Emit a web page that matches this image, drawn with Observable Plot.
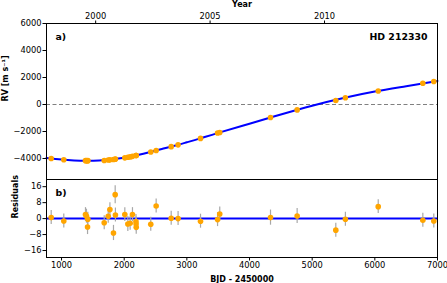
<!DOCTYPE html>
<html><head><meta charset="utf-8">
<script src="https://cdn.jsdelivr.net/npm/d3@7"></script>
<script src="https://cdn.jsdelivr.net/npm/@observablehq/plot@0.6"></script>
<style>
html,body{margin:0;padding:0;background:#fff;}
#wrap{position:relative;width:447px;height:283px;font-family:"DejaVu Sans",sans-serif;}
#wrap svg{position:absolute;left:0;overflow:visible;font-family:"DejaVu Sans",sans-serif;}
</style></head>
<body><div id="wrap"></div>
<script>
// Observation epochs (BJD - 2450000)
const bjd = [835,1036,1382,1398,1415,1420,1681,1745,1772,1829,1856,1860,2010,2058,2095,2132,2188,2190,2192,2424,2510,2750,2860,3218,3490,3525,4335,4760,5377,5530,6054,6766,6941];
// Radial velocities (m/s)
const rv = [-4000,-4090,-4160,-4160,-4165,-4160,-4145,-4110,-4100,-4070,-4050,-4045,-3950,-3910,-3880,-3840,-3780,-3775,-3773,-3520,-3410,-3120,-2990,-2510,-2110,-2070,-960,-400,300,500,1000,1570,1700];
// Residuals (m/s) and error bars
const resid = [0.5,-1.2,2,1.2,-4.2,-0.3,-2.1,1.2,4.5,-7.2,12,1.8,2,-2.7,-2.3,2,-1.5,-2.7,-4.3,-2.8,6.3,0.2,0,-1.3,-0.5,2.3,0.5,1.3,-5.8,-0.3,6,-0.8,-1.2];
const err = [3.5,3.5,3.5,3.5,3.8,3.5,3.5,3.5,3.5,3.8,4.5,3.5,3.5,3.8,3.5,3.5,3.5,3.5,3.5,3.5,3.5,3.5,3.5,3.5,3.5,3.5,3.8,3.8,3.5,3.5,3.5,3.5,3.5];
// Model curve samples
const curveX = [760,1000,1200,1400,1600,1800,2000,2200,2400,2600,2800,3000,3200,3500,4000,4500,5000,5500,6000,6500,7000];
const curveY = [-3960,-4080,-4140,-4160,-4140,-4070,-3950,-3760,-3540,-3300,-3060,-2800,-2530,-2100,-1420,-740,-90,480,960,1350,1740];
// Axis ticks
const yearTicks = [2000,2005,2010];
const rvTicks = [-4000,-2000,0,2000,4000,6000];
const resTicks = [-16,-8,0,8,16];
const bjdTicks = [1000,2000,3000,4000,5000,6000,7000];

const obs = bjd.map((x,i)=>({x, rv: rv[i], r: resid[i], e: err[i]}));
const model = curveX.map((x,i)=>({x, y: curveY[i]}));
const yearToBjd = y => (y-2000)*365.25 + 1544.5;
const fmtInt = d => (d < 0 ? "\u2212" : "") + String(Math.abs(d));

const W = 447, ML = 46, MR = 10;
const xdom = [760, 7000];
const fs = 8.3;

const topPlot = Plot.plot({
  width: W, height: 180, marginLeft: ML, marginRight: MR, marginTop: 23, marginBottom: 1,
  style: {fontSize: fs+"px", fontFamily: "DejaVu Sans", color: "black", background: "white"},
  x: {domain: xdom},
  y: {domain: [-5555, 6000]},
  marks: [
    Plot.ruleY([0], {stroke: "#808080", strokeWidth: 1, strokeDasharray: "4,2.5"}),
    Plot.line(model, {x: "x", y: "y", stroke: "#0000ff", strokeWidth: 2, curve: "natural"}),
    Plot.dot(obs, {x: "x", y: "rv", r: 2.8, fill: "#FFA500", stroke: null}),
    Plot.axisY(rvTicks, {anchor: "left", tickSize: 3.5, tickPadding: 1.5, label: null, fontSize: fs, tickFormat: fmtInt}),
    Plot.axisX(yearTicks.map(yearToBjd), {anchor: "top", tickSize: 3.5, tickPadding: 1.5, tickFormat: (d) => String(Math.round((d-1544.5)/365.25+2000)), label: null, fontSize: fs}),
    Plot.frame({stroke: "black", strokeWidth: 1}),
    Plot.text(["Year"], {frameAnchor: "top", dy: -19.3, lineAnchor: "middle", fontWeight: "bold", fontSize: 8, textAnchor: "middle"}),
    Plot.text(["a)"], {frameAnchor: "top-left", dx: 9, dy: 13, lineAnchor: "middle", fontWeight: "bold", fontSize: 9.4, textAnchor: "start"}),
    Plot.text(["HD 212330"], {frameAnchor: "top-right", dx: -10, dy: 13.5, lineAnchor: "middle", fontWeight: "bold", fontSize: 9.4, textAnchor: "end"}),
    Plot.text(["RV [m s⁻¹]"], {frameAnchor: "left", dx: -41.5, rotate: -90, lineAnchor: "middle", fontWeight: "bold", fontSize: 8})
  ]
});
topPlot.style.top = "0px";

const botPlot = Plot.plot({
  width: W, height: 104, marginLeft: ML, marginRight: MR, marginTop: 0, marginBottom: 26,
  style: {fontSize: fs+"px", fontFamily: "DejaVu Sans", color: "black", background: "transparent"},
  x: {domain: xdom},
  y: {domain: [-19.5, 19.6]},
  marks: [
    Plot.ruleY([0], {stroke: "#0000ff", strokeWidth: 2}),
    Plot.ruleX(obs, {x: "x", y1: d => d.r - d.e, y2: d => d.r + d.e, stroke: "#a8a8a8", strokeWidth: 1.2}),
    Plot.dot(obs, {x: "x", y: "r", r: 2.8, fill: "#FFA500", stroke: null}),
    Plot.axisY(resTicks, {anchor: "left", tickSize: 3.5, tickPadding: 1.5, label: null, fontSize: fs, tickFormat: fmtInt}),
    Plot.axisX(bjdTicks, {anchor: "bottom", tickSize: 3.5, tickPadding: 1.5, label: null, fontSize: fs, tickFormat: d => String(d)}),
    Plot.frame({stroke: "black", strokeWidth: 1}),
    Plot.text(["b)"], {frameAnchor: "top-left", dx: 9, dy: 13.7, lineAnchor: "middle", fontWeight: "bold", fontSize: 9.4, textAnchor: "start"}),
    Plot.text(["Residuals"], {frameAnchor: "left", dx: -31, rotate: -90, lineAnchor: "middle", fontWeight: "bold", fontSize: 8}),
    Plot.text(["BJD - 2450000"], {frameAnchor: "bottom", dy: 21.7, lineAnchor: "middle", fontWeight: "bold", fontSize: 8})
  ]
});
botPlot.style.top = "179px";

const wrap = document.getElementById("wrap");
wrap.appendChild(topPlot);
wrap.appendChild(botPlot);
</script></body></html>
